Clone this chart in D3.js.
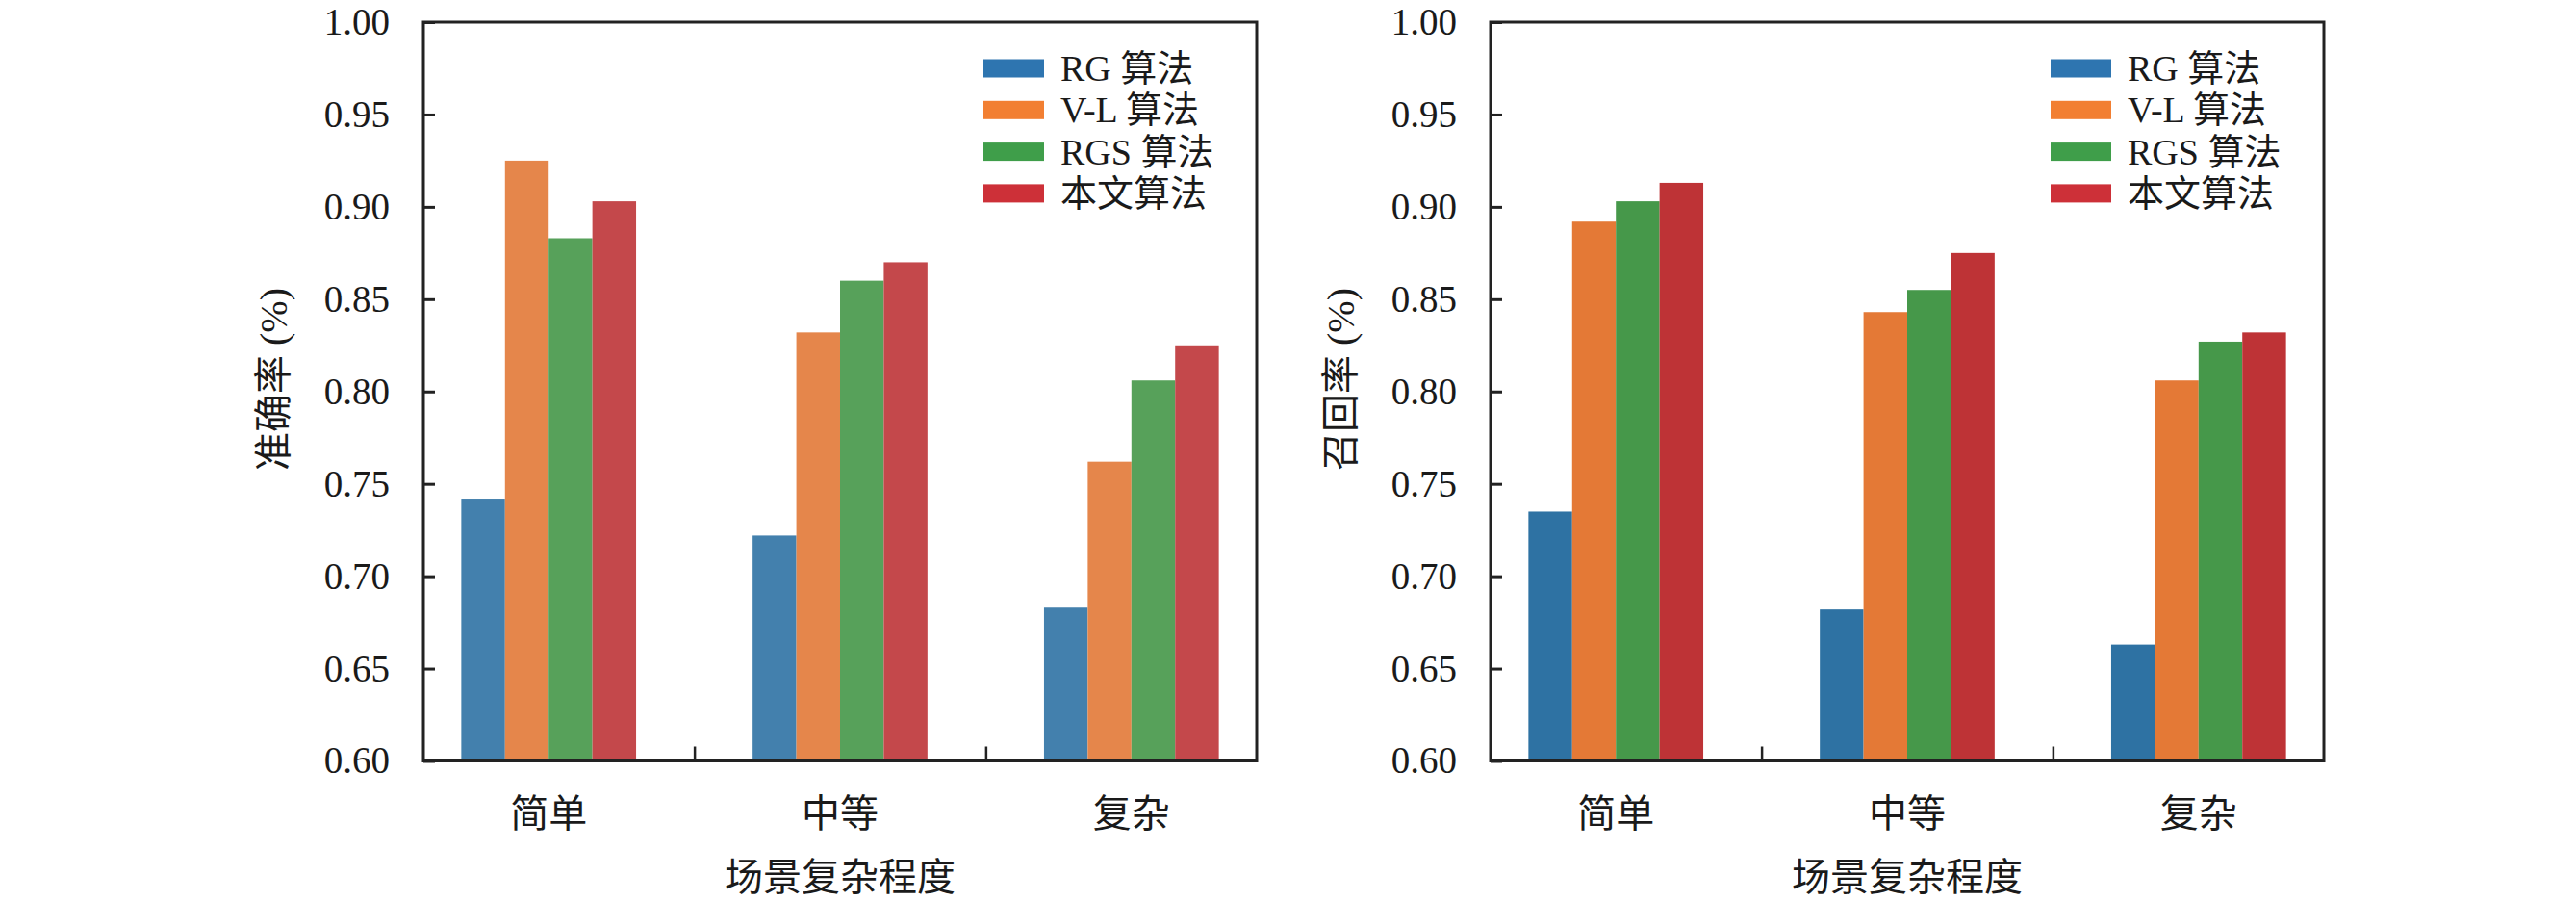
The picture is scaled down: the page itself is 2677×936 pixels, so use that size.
<!DOCTYPE html>
<html>
<head>
<meta charset="utf-8">
<script src="https://cdn.jsdelivr.net/npm/d3@7"></script>
<style>
  html, body { margin: 0; padding: 0; background: #fff; }
  svg text { font-family: "Liberation Serif", "Noto Sans CJK SC", serif; fill: #1a1a1a; }
</style>
</head>
<body>
<svg id="chart" width="2677" height="936"></svg>
<script>
// ---- data ----
const categories = ["简单", "中等", "复杂"];
const seriesNames = ["RG 算法", "V-L 算法", "RGS 算法", "本文算法"];
const yTicks = [0.60, 0.65, 0.70, 0.75, 0.80, 0.85, 0.90, 0.95, 1.00];

// accuracy (left panel)
const accRG   = [0.742, 0.722, 0.683];
const accVL   = [0.925, 0.832, 0.762];
const accRGS  = [0.883, 0.860, 0.806];
const accOurs = [0.903, 0.870, 0.825];

// recall (right panel)
const recRG   = [0.735, 0.682, 0.663];
const recVL   = [0.892, 0.843, 0.806];
const recRGS  = [0.903, 0.855, 0.827];
const recOurs = [0.913, 0.875, 0.832];

const xTitle = "场景复杂程度";
const yTitleLeft = "准确率 (%)";
const yTitleRight = "召回率 (%)";

// ---- styles ----
const FONT = "'Liberation Serif', 'Noto Sans CJK SC', serif";
const leftBarColors  = ["#4380ad", "#e5864b", "#57a15a", "#c4484b"];
const rightBarColors = ["#2e72a3", "#e47936", "#46984a", "#be3336"];
const legendColors   = ["#2e75b0", "#f27f32", "#3f9e4a", "#cd3038"];

const svg = d3.select("#chart");

const plotW = 866, plotH = 767.5, plotTop = 23;
const barW = 0.15;

function panel(left, seriesData, barColors, yTitle) {
  const g = svg.append("g").attr("transform", `translate(${left},${plotTop})`)
    .attr("font-family", FONT);
  const x = d3.scaleLinear().domain([-0.43, 2.43]).range([0, plotW]);
  const y = d3.scaleLinear().domain([0.60, 1.00]).range([plotH, 0]);

  // bars
  seriesData.forEach((vals, si) => {
    g.append("g").selectAll("rect").data(vals).join("rect")
      .attr("x", (d, ci) => x(ci + (si - 2) * barW))
      .attr("width", x(barW) - x(0))
      .attr("y", d => y(d))
      .attr("height", d => y(0.60) - y(d))
      .attr("fill", barColors[si]);
  });

  // y axis (inward ticks)
  const yAxis = d3.axisLeft(y).tickValues(yTicks).tickFormat(d3.format(".2f"))
    .tickSizeInner(-12).tickSizeOuter(0).tickPadding(35);
  const ya = g.append("g").call(yAxis);
  ya.attr("font-family", FONT).attr("font-size", 39);
  ya.select(".domain").remove();
  ya.selectAll(".tick line").attr("stroke", "#222").attr("stroke-width", 3);
  ya.selectAll(".tick text").attr("fill", "#1a1a1a")
    .attr("font-family", FONT).style("font-family", FONT);

  // x axis: minor ticks between groups, labels at centers
  const xAxis = d3.axisBottom(x).tickValues([0.5, 1.5]).tickFormat("")
    .tickSizeInner(-15).tickSizeOuter(0);
  const xa = g.append("g").attr("transform", `translate(0,${plotH})`).call(xAxis);
  xa.select(".domain").remove();
  xa.selectAll(".tick line").attr("stroke", "#222").attr("stroke-width", 2.5);

  g.append("g").selectAll("text").data(categories).join("text")
    .attr("x", (d, i) => x(i))
    .attr("y", plotH + 55)
    .attr("text-anchor", "middle")
    .attr("dominant-baseline", "central")
    .attr("font-size", 40)
    .text(d => d);

  // frame
  g.append("rect").attr("x", 0).attr("y", 0).attr("width", plotW).attr("height", plotH)
    .attr("fill", "none").attr("stroke", "#222").attr("stroke-width", 3);

  // axis titles
  g.append("text")
    .attr("transform", `translate(${-156},${371}) rotate(-90)`)
    .attr("text-anchor", "middle")
    .attr("dominant-baseline", "central")
    .attr("font-size", 40)
    .text(yTitle);

  g.append("text")
    .attr("x", x(1)).attr("y", 888)
    .attr("text-anchor", "middle")
    .attr("dominant-baseline", "central")
    .attr("font-size", 40)
    .text(xTitle);

  // legend
  const lg = g.append("g").attr("transform", "translate(582,48)");
  seriesNames.forEach((name, i) => {
    const row = lg.append("g").attr("transform", `translate(0,${i * 43.3})`);
    row.append("rect").attr("x", 0).attr("y", -9.5).attr("width", 63).attr("height", 19)
      .attr("fill", legendColors[i]);
    row.append("text").attr("x", 80).attr("y", 0)
      .attr("dominant-baseline", "central")
      .attr("font-size", 38)
      .text(name);
  });
}

panel(440, [accRG, accVL, accRGS, accOurs], leftBarColors, yTitleLeft);
panel(1549, [recRG, recVL, recRGS, recOurs], rightBarColors, yTitleRight);
</script>
</body>
</html>
